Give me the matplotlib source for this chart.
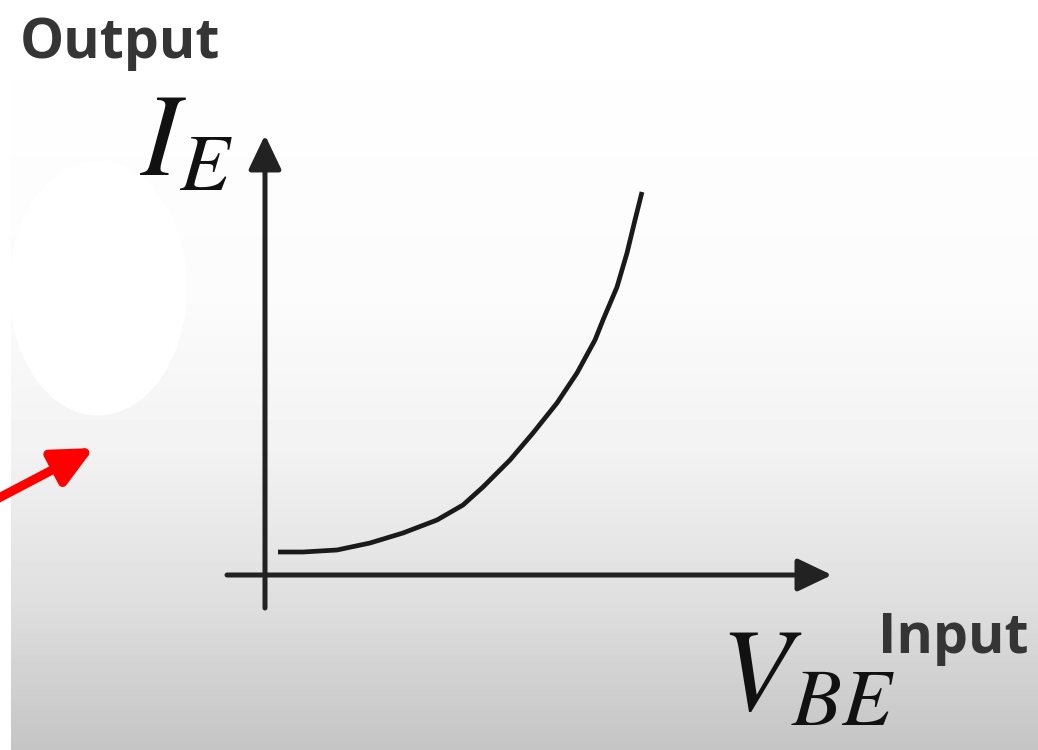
"""
Transistor input characteristic: I_E against V_BE
"""

import numpy as np
import matplotlib
matplotlib.use("Agg")
import matplotlib.pyplot as plt
from matplotlib.patches import Ellipse

# curve (V_BE, I_E in arbitrary units)
v_be = [0.13, 0.38, 0.72, 1.05, 1.38, 1.72, 1.98, 2.18, 2.45, 2.68,
        2.92, 3.12, 3.30, 3.38, 3.52, 3.62, 3.70, 3.77]
i_e = [0.23, 0.23, 0.25, 0.32, 0.42, 0.55, 0.70, 0.88, 1.15, 1.42,
       1.72, 2.02, 2.35, 2.55, 2.88, 3.22, 3.55, 3.83]

# axis extents (arrow tails and tips)
x_axis = (-0.38, 5.67)
y_axis = (-0.33, 4.40)

# background shading: row position (0 top .. 1 bottom) -> grey level
shade_pos = [0.0, 0.40, 0.60, 0.80, 1.0]
shade_val = [1.0, 0.985, 0.95, 0.875, 0.77]

plt.rcParams["mathtext.fontset"] = "stix"

fig = plt.figure(figsize=(10.38, 7.5), dpi=100)
ax = fig.add_axes([0, 0, 1, 1])
xlim = (-2.65, 7.73)
ylim = (-1.75, 5.75)
ax.set_xlim(*xlim)
ax.set_ylim(*ylim)
ax.axis("off")

# vertical grey gradient, white strip down the left edge
rows = np.linspace(0, 1, 750)
grey = np.interp(rows, shade_pos, shade_val)
bg = np.repeat(grey[:, None], 1038, axis=1)
bg[:, :11] = 1.0
ax.imshow(bg, cmap="gray", vmin=0, vmax=1, extent=(*xlim, *ylim),
          aspect="auto", origin="upper", zorder=0)

ax.add_patch(Ellipse((-1.67, 2.87), 1.78, 2.55, facecolor="white",
                     edgecolor="none", zorder=1))

# red pointer
ax.annotate("", xy=(-1.71, 1.27), xytext=(-2.70, 0.75),
            arrowprops=dict(arrowstyle="-|>,head_length=2.4,head_width=1.15",
                            color="#ff0000", lw=6.5, shrinkA=0, shrinkB=0,
                            mutation_scale=10), zorder=3)

# axes with arrowheads
axis_color = "#222222"
ax.annotate("", xy=(x_axis[1], 0), xytext=(x_axis[0], 0),
            arrowprops=dict(arrowstyle="-|>,head_length=2.1,head_width=1.0",
                            color=axis_color, lw=3.6, shrinkA=0, shrinkB=0,
                            mutation_scale=10), zorder=2)
ax.annotate("", xy=(0, y_axis[1]), xytext=(0, y_axis[0]),
            arrowprops=dict(arrowstyle="-|>,head_length=2.1,head_width=1.0",
                            color=axis_color, lw=3.6, shrinkA=0, shrinkB=0,
                            mutation_scale=10), zorder=2)

ax.plot(v_be, i_e, color="#1a1a1a", lw=3.4, solid_capstyle="butt",
        solid_joinstyle="round", zorder=2)

# labels
ax.text(-1.25, 4.00, r"$I_E$", fontsize=84, color="#111111", va="baseline", ha="left")
ax.text(4.55, -1.35, r"$V_{BE}$", fontsize=84, color="#111111", va="baseline", ha="left")
ax.text(-2.45, 5.17, "Output", family="Open Sans", weight="bold", fontsize=40,
        color="#353535", va="baseline", ha="left")
ax.text(6.13, -0.78, "Input", family="Open Sans", weight="bold", fontsize=40,
        color="#353535", va="baseline", ha="left")

fig.savefig("out.png", dpi=100)
